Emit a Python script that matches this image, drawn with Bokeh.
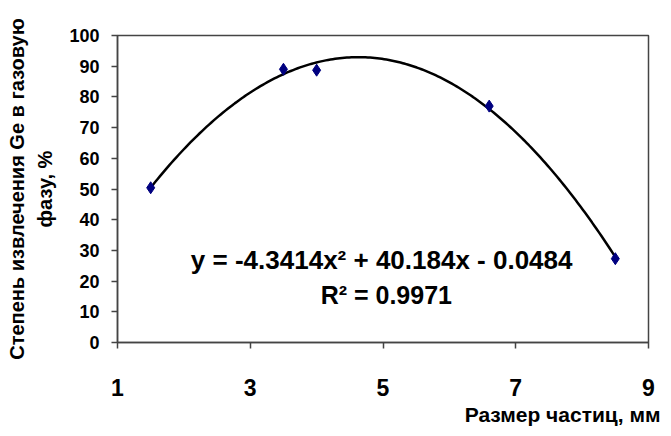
from bokeh.plotting import figure
from bokeh.models import Label, Title, FixedTicker, LinearAxis
from bokeh.embed import file_html
from bokeh.resources import INLINE
import numpy as np

# data
sizes = [1.5, 3.5, 4.0, 6.6, 8.5]
extraction = [50.4, 89.0, 88.7, 77.0, 27.3]
coef_a, coef_b, coef_c = -4.3414, 40.184, -0.0484
x_ticks = [1, 3, 5, 7, 9]
y_ticks = [0, 10, 20, 30, 40, 50, 60, 70, 80, 90, 100]
eq_text = "y = -4.3414x² + 40.184x - 0.0484"
r2_text = "R² = 0.9971"
y_label_lines = ["Степень извлечения Ge в газовую", "фазу, %"]
x_label = "Размер частиц, мм"

FONT = "Liberation Sans"

p = figure(width=663, height=428, x_range=(1, 9), y_range=(0, 100),
           output_backend="svg", toolbar_location=None,
           min_border_left=117, min_border_right=15, min_border_top=35, min_border_bottom=40)

p.grid.visible = False
p.outline_line_color = "#444444"
p.outline_line_width = 1.5
p.background_fill_color = "white"
p.border_fill_color = "white"

# trendline
xs = np.linspace(min(sizes), max(sizes), 200)
ys = coef_a * xs**2 + coef_b * xs + coef_c
p.line(xs, ys, line_color="black", line_width=2.5)

p.scatter(sizes, extraction, marker="diamond", size=12, fill_color="#000080", line_color="#000080")

p.xaxis.ticker = FixedTicker(ticks=x_ticks)
p.yaxis.ticker = FixedTicker(ticks=y_ticks)
for ax in (p.xaxis[0], p.yaxis[0]):
    ax.axis_line_color = "#444444"
    ax.axis_line_width = 1.5
    ax.major_tick_line_color = "#444444"
    ax.major_tick_line_width = 1.5
    ax.major_tick_out = 6
    ax.major_tick_in = 0
    ax.minor_tick_line_color = None
    ax.major_label_text_font = FONT
    ax.major_label_text_font_style = "bold"
    ax.major_label_text_color = "black"

p.yaxis.major_label_text_font_size = "18px"
p.yaxis.major_label_standoff = 12
p.xaxis.major_label_text_font_size = "23px"
p.xaxis.major_label_standoff = 30

# y-axis label: two centred lines (inner line on main axis, outer on a bare axis)
yax = p.yaxis[0]
yax.axis_label = y_label_lines[1]
yax.axis_label_text_font = FONT
yax.axis_label_text_font_style = "bold"
yax.axis_label_text_font_size = "20px"
yax.axis_label_standoff = 10
yax.axis_label_text_color = "black"

outer = LinearAxis(ticker=FixedTicker(ticks=[]), axis_line_color=None,
                   major_tick_line_color=None, minor_tick_line_color=None,
                   major_tick_out=0, major_label_standoff=0,
                   axis_label=y_label_lines[0], axis_label_text_font=FONT,
                   axis_label_text_font_style="bold", axis_label_text_font_size="20px",
                   axis_label_standoff=4, axis_label_text_color="black")
p.add_layout(outer, "left")

xt = Title(text=x_label, align="right", text_font=FONT, offset=-12, standoff=5,
           text_font_style="bold", text_font_size="21px", text_color="black")
p.add_layout(xt, "below")

p.add_layout(Label(x=4.98, y=27.0, text=eq_text, text_align="center", text_baseline="middle",
                   text_font=FONT, text_font_style="bold", text_font_size="26px", text_color="black"))
p.add_layout(Label(x=5.05, y=15.6, text=r2_text, text_align="center", text_baseline="middle",
                   text_font=FONT, text_font_style="bold", text_font_size="25px", text_color="black"))

open("out.html", "w").write(file_html(p, INLINE))
